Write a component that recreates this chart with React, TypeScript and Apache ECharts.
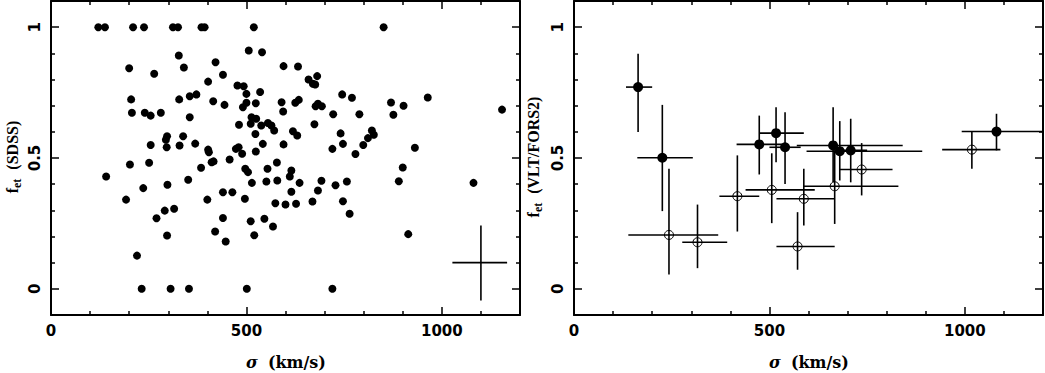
import React, { useEffect, useRef } from "react";
import * as echarts from "echarts";

// ---- Left panel: SDSS sample ----
const SDSS_SIGMA = [
  121, 138, 210, 238, 312, 325, 385, 393, 519, 851,
  506, 540, 327, 421, 200, 340, 595, 632, 264, 440, 402, 477, 493, 500, 535, 659, 681, 670, 676,
  205, 328, 355, 372, 415, 444, 500, 491, 524, 590, 594, 625, 634, 745, 770, 677, 683, 693, 722, 789, 870, 902, 876, 964, 1154,
  207, 240, 255, 281, 355, 481, 513, 525, 511, 538, 555, 564, 571, 523, 674, 619, 630, 741, 821, 826, 811,
  297, 294, 338, 255, 296, 329, 369, 402, 404, 473, 480, 489, 524, 542, 595, 747, 799, 720, 779, 931,
  411, 416, 202, 251, 141, 236, 298, 351, 384, 457, 497, 504, 514, 554, 578, 551, 579, 611, 615, 636, 900, 890, 1081, 692, 683, 728, 757,
  192, 440, 464, 400, 496, 574, 600, 615, 627, 669, 747, 764,
  291, 315, 270, 440, 511, 546, 568, 297, 420, 447, 520, 914, 220,
  232, 306, 353, 501, 720,
];
const SDSS_FET = [
  1, 1, 1, 1, 1, 1, 1, 1, 1, 1,
  0.911, 0.904, 0.892, 0.866, 0.843, 0.846, 0.851, 0.85, 0.822, 0.818, 0.792, 0.777, 0.774, 0.745, 0.752, 0.8, 0.813, 0.784, 0.781,
  0.724, 0.724, 0.736, 0.743, 0.717, 0.703, 0.711, 0.694, 0.709, 0.713, 0.678, 0.711, 0.722, 0.743, 0.73, 0.698, 0.707, 0.698, 0.667, 0.667, 0.712, 0.7, 0.665, 0.731, 0.685,
  0.673, 0.673, 0.662, 0.673, 0.656, 0.627, 0.656, 0.65, 0.631, 0.624, 0.634, 0.624, 0.605, 0.592, 0.629, 0.602, 0.586, 0.594, 0.605, 0.589, 0.576,
  0.583, 0.57, 0.583, 0.55, 0.541, 0.548, 0.555, 0.532, 0.522, 0.535, 0.541, 0.516, 0.525, 0.554, 0.552, 0.554, 0.55, 0.535, 0.515, 0.539,
  0.484, 0.487, 0.475, 0.482, 0.429, 0.385, 0.398, 0.417, 0.463, 0.494, 0.459, 0.446, 0.405, 0.459, 0.483, 0.41, 0.414, 0.429, 0.452, 0.405, 0.464, 0.411, 0.405, 0.413, 0.376, 0.396, 0.41,
  0.341, 0.369, 0.369, 0.341, 0.344, 0.327, 0.322, 0.371, 0.325, 0.334, 0.335, 0.287,
  0.299, 0.306, 0.27, 0.271, 0.258, 0.268, 0.238, 0.204, 0.219, 0.181, 0.205, 0.209, 0.127,
  0, 0, 0, 0, 0,
];
// typical error cross (sigma, fet, sigma lo, sigma hi, fet lo, fet hi)
const TYPICAL_ERR = [1100, 0.1, 1027, 1167, -0.045, 0.242];

// ---- Right panel: VLT/FORS2 sample, filled symbols ----
const FILLED_SIGMA = [164, 226, 474, 517, 540, 663, 680, 708, 1081];
const FILLED_FET = [0.771, 0.501, 0.552, 0.595, 0.541, 0.548, 0.526, 0.529, 0.601];
const FILLED_SIGMA_LO = [133, 162, 416, 474, 500, 570, 595, 670, 992];
const FILLED_SIGMA_HI = [200, 304, 532, 588, 580, 841, 891, 750, 1200];
const FILLED_FET_LO = [0.599, 0.297, 0.437, 0.484, 0.401, 0.407, 0.414, 0.407, 0.529];
const FILLED_FET_HI = [0.898, 0.703, 0.662, 0.694, 0.675, 0.694, 0.641, 0.65, 0.669];

// ---- Right panel: open symbols ----
const OPEN_SIGMA = [243, 316, 418, 506, 588, 667, 736, 572, 1018];
const OPEN_FET = [0.206, 0.178, 0.354, 0.378, 0.344, 0.392, 0.456, 0.162, 0.532];
const OPEN_SIGMA_LO = [139, 277, 372, 439, 518, 587, 680, 518, 942];
const OPEN_SIGMA_HI = [369, 392, 474, 616, 667, 830, 815, 667, 1091];
const OPEN_FET_LO = [0.055, 0.079, 0.219, 0.251, 0.242, 0.248, 0.357, 0.073, 0.459];
const OPEN_FET_HI = [0.459, 0.322, 0.51, 0.518, 0.459, 0.53, 0.557, 0.293, 0.602];

// ---- axes ----
const X_MIN = 0;
const X_MAX = 1200;
const X_MAJOR = [0, 500, 1000];
const X_MINOR = [100, 200, 300, 400, 600, 700, 800, 900, 1100];
const Y_MIN = -0.1;
const Y_MAX = 1.1;
const Y_MAJOR = [0, 0.5, 1];
const Y_MINOR = [0.1, 0.2, 0.3, 0.4, 0.6, 0.7, 0.8, 0.9];

const X_TITLE = "σ";
const X_TITLE_REST = "(km/s)";
const LEFT_Y_TITLE = "(SDSS)";
const RIGHT_Y_TITLE = "(VLT/FORS2)";

const SANS = "DejaVu Sans";
const SERIF = "Liberation Serif";

function axisSet(kind: "x" | "y", gridIndex: number) {
  const isX = kind === "x";
  const min = isX ? X_MIN : Y_MIN;
  const max = isX ? X_MAX : Y_MAX;
  const major = isX ? X_MAJOR : Y_MAJOR;
  const minor = isX ? X_MINOR : Y_MINOR;
  const positions = isX ? ["bottom", "top"] : ["left", "right"];
  const list: any[] = [];
  positions.forEach((pos, pi) => {
    const showLabel = pi === 0;
    list.push({
      type: "value",
      gridIndex,
      min,
      max,
      position: pos,
      splitLine: { show: false },
      axisLine: { show: true, onZero: false, lineStyle: { color: "#000", width: 2 } },
      axisTick: {
        show: true,
        inside: true,
        length: 8,
        customValues: major,
        lineStyle: { color: "#000", width: 1.5 },
      },
      axisLabel: showLabel
        ? {
            show: true,
            customValues: major,
            formatter: (v: number) => String(v),
            color: "#000",
            fontFamily: SANS,
            fontWeight: "bold",
            fontSize: 15,
            margin: isX ? 8 : 9,
            rotate: isX ? 0 : 90,
          }
        : { show: false },
    });
    list.push({
      type: "value",
      gridIndex,
      min,
      max,
      position: pos,
      splitLine: { show: false },
      axisLine: { show: false, onZero: false },
      axisTick: {
        show: true,
        inside: true,
        length: 4,
        customValues: minor,
        lineStyle: { color: "#000", width: 1.5 },
      },
      axisLabel: { show: false },
    });
  });
  return list;
}

function errorRender(params: any, api: any) {
  const x = api.value(0);
  const y = api.value(1);
  const a = api.coord([api.value(2), y]);
  const b = api.coord([api.value(3), y]);
  const c = api.coord([x, api.value(4)]);
  const d = api.coord([x, api.value(5)]);
  const style = { stroke: "#000", lineWidth: 1.6 };
  return {
    type: "group",
    children: [
      { type: "line", shape: { x1: a[0], y1: a[1], x2: b[0], y2: b[1] }, style },
      { type: "line", shape: { x1: c[0], y1: c[1], x2: d[0], y2: d[1] }, style },
    ],
  };
}

function zip(...cols: number[][]) {
  return cols[0].map((_, i) => cols.map((c) => c[i]));
}

function yTitle(x: number, label: string) {
  return {
    type: "text",
    x,
    y: 157,
    rotation: Math.PI / 2,
    style: {
      text: `{f|f}{s|et}{t|${label}}`,
      align: "center",
      verticalAlign: "middle",
      fill: "#000",
      rich: {
        f: { fontFamily: SERIF, fontWeight: "bold", fontSize: 16, lineHeight: 22, verticalAlign: "middle", fill: "#000" },
        s: { fontFamily: SERIF, fontWeight: "bold", fontSize: 12, lineHeight: 13, verticalAlign: "bottom", fill: "#000" },
        t: { fontFamily: SERIF, fontWeight: "bold", fontSize: 16, lineHeight: 22, verticalAlign: "middle", padding: [0, 0, 0, 9], fill: "#000" },
      },
    },
  };
}

function xTitle(x: number) {
  return {
    type: "text",
    x,
    y: 362,
    style: {
      text: `{i|${X_TITLE}}{t|${X_TITLE_REST}}`,
      align: "center",
      verticalAlign: "middle",
      fill: "#000",
      rich: {
        i: { fontFamily: "DejaVu Serif", fontStyle: "italic", fontWeight: "bold", fontSize: 16, fill: "#000" },
        t: { fontFamily: "DejaVu Serif", fontWeight: "bold", fontSize: 16, padding: [0, 0, 0, 10], fill: "#000" },
      },
    },
  };
}

export default function App() {
  const ref = useRef<HTMLDivElement>(null);
  useEffect(() => {
    if (!ref.current) return;
    const chart = echarts.init(ref.current, null, { renderer: "svg" });
    const xAxes = [...axisSet("x", 0), ...axisSet("x", 1)];
    const yAxes = [...axisSet("y", 0), ...axisSet("y", 1)];
    chart.setOption({
      animation: false,
      backgroundColor: "#fff",
      grid: [
        { left: 51, top: 1, width: 469, height: 314 },
        { left: 574, top: 1, width: 469, height: 314 },
      ],
      xAxis: xAxes,
      yAxis: yAxes,
      series: [
        {
          type: "scatter",
          xAxisIndex: 0,
          yAxisIndex: 0,
          symbol: "circle",
          symbolSize: 8,
          itemStyle: { color: "#000", opacity: 1 },
          data: zip(SDSS_SIGMA, SDSS_FET),
        },
        {
          type: "custom",
          xAxisIndex: 0,
          yAxisIndex: 0,
          renderItem: errorRender,
          encode: { x: 0, y: 1 },
          data: [TYPICAL_ERR],
        },
        {
          type: "custom",
          xAxisIndex: 4,
          yAxisIndex: 4,
          renderItem: errorRender,
          encode: { x: 0, y: 1 },
          clip: true,
          data: zip(FILLED_SIGMA, FILLED_FET, FILLED_SIGMA_LO, FILLED_SIGMA_HI, FILLED_FET_LO, FILLED_FET_HI),
        },
        {
          type: "custom",
          xAxisIndex: 4,
          yAxisIndex: 4,
          renderItem: errorRender,
          encode: { x: 0, y: 1 },
          clip: true,
          data: zip(OPEN_SIGMA, OPEN_FET, OPEN_SIGMA_LO, OPEN_SIGMA_HI, OPEN_FET_LO, OPEN_FET_HI),
        },
        {
          type: "scatter",
          xAxisIndex: 4,
          yAxisIndex: 4,
          symbol: "circle",
          symbolSize: 10,
          itemStyle: { color: "#000", opacity: 1 },
          data: zip(FILLED_SIGMA, FILLED_FET),
        },
        {
          type: "scatter",
          xAxisIndex: 4,
          yAxisIndex: 4,
          symbol: "circle",
          symbolSize: 9,
          itemStyle: { color: "rgba(0,0,0,0)", borderColor: "#000", borderWidth: 1, opacity: 1 },
          data: zip(OPEN_SIGMA, OPEN_FET),
        },
      ],
      graphic: [xTitle(286), xTitle(809), yTitle(12, LEFT_Y_TITLE), yTitle(533, RIGHT_Y_TITLE)],
    });
    return () => chart.dispose();
  }, []);
  return (
    <div
      ref={ref}
      style={{ position: "fixed", left: 0, top: 0, width: 1045, height: 373, background: "#fff" }}
    />
  );
}
